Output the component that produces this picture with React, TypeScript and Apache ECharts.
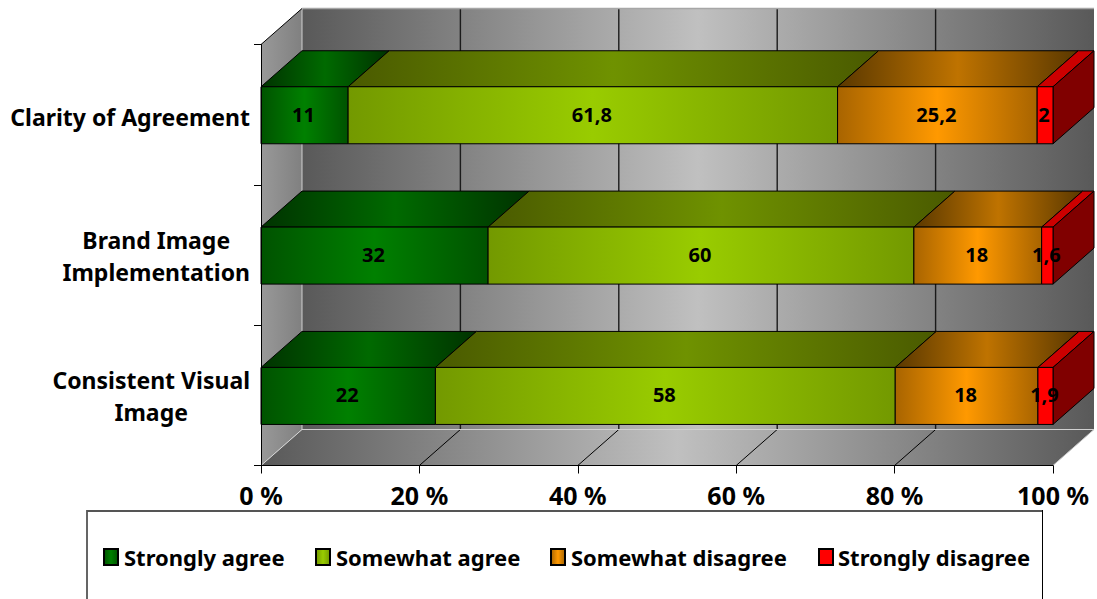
import React, { useEffect, useRef } from "react";
import * as echarts from "echarts";

const categories = ["Consistent Visual\nImage", "Brand Image\nImplementation", "Clarity of Agreement"];
const seriesNames = ["Strongly agree", "Somewhat agree", "Somewhat disagree", "Strongly disagree"];
const stronglyAgree = [22, 32, 11];
const somewhatAgree = [58, 60, 61.8];
const somewhatDisagree = [18, 18, 25.2];
const stronglyDisagree = [1.9, 1.6, 2];
const allValues = [stronglyAgree, somewhatAgree, somewhatDisagree, stronglyDisagree];
const xTicks = [0, 20, 40, 60, 80, 100];

// styling: [front edge, front centre, top edge, top centre]
const palettes = [
  ["#005300", "#008000", "#003300", "#006a00"],
  ["#739900", "#99cc00", "#4a5a00", "#6f9200"],
  ["#a86400", "#ff9900", "#5a3800", "#bf7300"],
  ["#ff0000", "#ff0000", "#cc0000", "#cc0000"],
];
const legendLefts = [103, 315, 550, 818];
const legendTextPad = [1, 1, 1, 0];
const DX = 41;
const DY = -36;
const BAR_RATIO = 57 / 140.3;
const BAR_SHIFT = 0.6;
const FONT = '"Noto Sans", "DejaVu Sans", sans-serif';

const hGrad = (edge: string, mid: string) =>
  new echarts.graphic.LinearGradient(0, 0, 1, 0, [
    { offset: 0, color: edge },
    { offset: 0.5, color: mid },
    { offset: 1, color: edge },
  ]);

const totals = categories.map((_, c) => allValues.reduce((s, a) => s + a[c], 0));

function seriesData(si: number) {
  return categories.map((_, c) => {
    let before = 0;
    for (let k = 0; k < si; k++) before += allValues[k][c];
    const value = allValues[si][c];
    return [(before / totals[c]) * 100, ((before + value) / totals[c]) * 100, c, value];
  });
}

const poly = (points: number[][], style: any) => ({ type: "polygon", shape: { points }, style });
const seg = (a: number[], b: number[], stroke: string, lineWidth = 1) => ({
  type: "line",
  shape: { x1: a[0], y1: a[1], x2: b[0], y2: b[1] },
  style: { stroke, lineWidth },
});

function renderWalls(params: any, api: any) {
  const cs = params.coordSys;
  const l = cs.x, t = cs.y, r = cs.x + cs.width, b = cs.y + cs.height;
  const children: any[] = [
    poly([[l + DX, t + DY], [r + DX, t + DY], [r + DX, b + DY], [l + DX, b + DY]], { fill: hGrad("#595959", "#c0c0c0") }),
    poly([[l, t], [l + DX, t + DY], [l + DX, b + DY], [l, b]], {
      fill: new echarts.graphic.LinearGradient(0, 0, 1, 0, [
        { offset: 0, color: "#999999" },
        { offset: 1, color: "#808080" },
      ]),
    }),
    poly([[l, b], [r, b], [r + DX, b + DY], [l + DX, b + DY]], { fill: hGrad("#595959", "#c0c0c0") }),
  ];
  xTicks.forEach((tick) => {
    const x = api.coord([tick, 0])[0];
    if (tick > 0 && tick < 100) children.push(seg([x + DX, t + DY], [x + DX, b + DY], "#1a1a1a", 1.4));
    if (tick > 0 && tick < 100) children.push(seg([x, b], [x + DX, b + DY], "#000000", 1));
  });
  children.push(seg([l + DX, t + DY], [r + DX, t + DY], "#a6a6a6", 1.5));
  children.push(seg([l + DX, t + DY], [l + DX, b + DY], "#d0d0d0", 1));
  children.push(seg([l + DX, b + DY], [r + DX, b + DY], "#d0d0d0", 1));
  children.push(seg([l, b], [l + DX, b + DY], "#d8d8d8", 1));
  children.push(seg([r, b], [r + DX, b + DY], "#c8c8c8", 1));
  children.push(seg([l, t], [l + DX, t + DY], "#000000", 1));
  return { type: "group", children };
}

function makeRenderBar(si: number) {
  const pal = palettes[si];
  return (_params: any, api: any) => {
    const start = api.value(0), end = api.value(1), c = api.value(2), raw = api.value(3);
    const p0 = api.coord([start, c]);
    const p1 = api.coord([end, c]);
    const h = api.size([0, 1])[1] * BAR_RATIO;
    const x0 = p0[0], x1 = p1[0], y0 = p0[1] + BAR_SHIFT - h / 2, y1 = y0 + h;
    const line = { stroke: "#000000", lineWidth: 1 };
    const children: any[] = [
      poly([[x0, y0], [x1, y0], [x1 + DX, y0 + DY], [x0 + DX, y0 + DY]], { fill: hGrad(pal[2], pal[3]), ...line }),
    ];
    if (si === allValues.length - 1) {
      children.push(poly([[x1, y0], [x1 + DX, y0 + DY], [x1 + DX, y1 + DY], [x1, y1]], { fill: "#800000", ...line }));
    }
    children.push({
      type: "rect",
      shape: { x: x0, y: y0, width: x1 - x0, height: h },
      style: { fill: hGrad(pal[0], pal[1]), ...line },
    });
    children.push({
      type: "text",
      style: {
        text: String(raw).replace(".", ","),
        x: (x0 + x1) / 2 - 1,
        y: (y0 + y1) / 2 - 1,
        align: "center",
        verticalAlign: "middle",
        fill: "#000000",
        font: `bold 20px ${FONT}`,
      },
    });
    return { type: "group", children };
  };
}

export default function App() {
  const ref = useRef<HTMLDivElement>(null);
  useEffect(() => {
    const chart = echarts.init(ref.current!, undefined, { renderer: "svg" });
    chart.setOption({
      animation: false,
      backgroundColor: "#ffffff",
      textStyle: { fontFamily: FONT },
      grid: { left: 261, top: 44.5, width: 792, height: 421 },
      xAxis: {
        type: "value",
        min: 0,
        max: 100,
        interval: 20,
        z: 6,
        splitLine: { show: false },
        axisLine: { show: true, lineStyle: { color: "#000", width: 1 } },
        axisTick: { show: true, length: 8, lineStyle: { color: "#000", width: 1 } },
        axisLabel: {
          formatter: "{value} %",
          margin: 17,
          color: "#000",
          fontFamily: FONT,
          fontWeight: "bold",
          fontSize: 25,
          hideOverlap: false,
          showMinLabel: true,
          showMaxLabel: true,
        },
      },
      yAxis: {
        type: "category",
        data: categories,
        z: 6,
        splitLine: { show: false },
        axisLine: { show: true, lineStyle: { color: "#000", width: 1 } },
        axisTick: { show: true, length: 7, lineStyle: { color: "#000", width: 1 } },
        axisLabel: {
          margin: 11,
          interval: 0,
          color: "#000",
          padding: [1, 0, 0, 0],
          formatter: (v: string) =>
            v.includes("\n") ? v.split("\n").map((s) => `{c|${s}}`).join("\n") : `{s|${v}}`,
          rich: {
            c: {
              align: "center",
              fontFamily: FONT,
              fontWeight: "bold",
              fontSize: 23,
              lineHeight: 32,
              color: "#000",
            },
            s: {
              align: "center",
              fontFamily: FONT,
              fontWeight: "bold",
              fontSize: 23,
              lineHeight: 32,
              padding: [3, 0, 0, 0],
              color: "#000",
            },
          },
        },
      },
      legend: seriesNames.map((n, i) => ({
        data: [n],
        left: legendLefts[i],
        top: 546,
        padding: 0,
        itemWidth: 14,
        itemHeight: 16,
        itemGap: 0,
        icon: "rect",
        selectedMode: false,
        textStyle: {
          fontFamily: FONT,
          fontWeight: "bold",
          fontSize: 22,
          color: "#000",
          padding: [0, 0, 3, legendTextPad[i]],
        },
      })),
      graphic: [
        {
          type: "polyline",
          shape: { points: [[87, 620], [87, 511], [1042.5, 511]] },
          style: { fill: "none", stroke: "#555555", lineWidth: 1.8 },
          silent: true,
        },
        {
          type: "line",
          shape: { x1: 1042.5, y1: 510, x2: 1042.5, y2: 620 },
          style: { stroke: "#000000", lineWidth: 1 },
          silent: true,
        },
      ],
      series: [
        {
          type: "custom",
          name: "walls",
          silent: true,
          clip: false,
          z: 1,
          data: [[0, 0]],
          encode: { x: 0, y: 1 },
          renderItem: renderWalls,
        },
        ...seriesNames.map((name, si) => ({
          type: "custom",
          name,
          clip: false,
          z: 2 + si,
          data: seriesData(si),
          encode: { x: [0, 1], y: 2 },
          itemStyle: {
            color: hGrad(palettes[si][0], palettes[si][1]),
            borderColor: "#000",
            borderWidth: 1,
          },
          renderItem: makeRenderBar(si),
        })),
      ],
    });
    return () => chart.dispose();
  }, []);
  return <div ref={ref} style={{ position: "absolute", left: 0, top: 0, width: 1097, height: 599 }} />;
}
